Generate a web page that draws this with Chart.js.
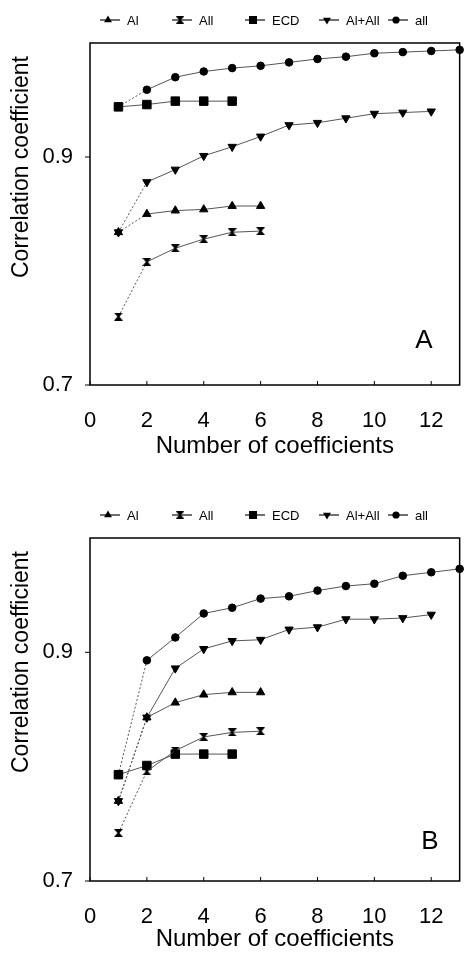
<!DOCTYPE html>
<html>
<head>
<meta charset="utf-8">
<script src="https://cdn.jsdelivr.net/npm/chart.js@4.4.1/dist/chart.umd.min.js"></script>
<style>
  html, body { margin: 0; padding: 0; background: #fff; overflow: hidden; }
  canvas { display: block; }
</style>
</head>
<body>
<canvas id="chartA" width="467" height="470"></canvas>
<canvas id="chartB" width="467" height="484"></canvas>
<script>
// x = number of coefficients
const coefficients = [1, 2, 3, 4, 5, 6, 7, 8, 9, 10, 11, 12, 13];
const xTicks = [0, 2, 4, 6, 8, 10, 12];
const yTicks = [0.7, 0.9];
const seriesLabels = ['Al', 'All', 'ECD', 'Al+All', 'all'];

// panel A
const alA     = [0.834, 0.850, 0.853, 0.854, 0.857, 0.857];
const allA    = [0.760, 0.808, 0.820, 0.828, 0.834, 0.835];
const ecdA    = [0.944, 0.946, 0.949, 0.949, 0.949];
const alAllA  = [0.834, 0.878, 0.889, 0.901, 0.909, 0.918, 0.928, 0.930, 0.934, 0.938, 0.939, 0.940];
const everyA  = [0.944, 0.959, 0.970, 0.975, 0.978, 0.980, 0.983, 0.986, 0.988, 0.991, 0.992, 0.993, 0.994];

// panel B
const alB     = [0.770, 0.843, 0.856, 0.863, 0.865, 0.865];
const allB    = [0.742, 0.796, 0.814, 0.826, 0.830, 0.831];
const ecdB    = [0.793, 0.801, 0.811, 0.811, 0.811];
const alAllB  = [0.770, 0.843, 0.886, 0.903, 0.910, 0.911, 0.920, 0.922, 0.929, 0.929, 0.930, 0.933];
const everyB  = [0.793, 0.893, 0.913, 0.934, 0.939, 0.947, 0.949, 0.954, 0.958, 0.960, 0.967, 0.970, 0.973];

const FONT = '"Liberation Sans", Arial, Helvetica, sans-serif';
const Y_TITLE = 'Correlation coefficient';

// hourglass marker used for "All"
function hourglass(w, h) {
  const c = document.createElement('canvas');
  c.width = w; c.height = h;
  const g = c.getContext('2d');
  g.fillStyle = '#000';
  g.beginPath();
  g.moveTo(0, 0); g.lineTo(w, 0); g.lineTo(w / 2 + 1, h / 2); g.lineTo(w / 2 - 1, h / 2); g.closePath();
  g.moveTo(0, h); g.lineTo(w, h); g.lineTo(w / 2 + 1, h / 2); g.lineTo(w / 2 - 1, h / 2); g.closePath();
  g.fill();
  return c;
}

const markers = [
  { pointStyle: 'triangle', rotation: 0,   radius: 4.8 },
  { pointStyle: hourglass(9, 8), rotation: 0, radius: 4.5 },
  { pointStyle: 'rect',     rotation: 0,   radius: 6 },
  { pointStyle: 'triangle', rotation: 180, radius: 4.8 },
  { pointStyle: 'circle',   rotation: 0,   radius: 3.8 },
];
const legendX = [108, 180, 253, 327, 396];

function drawMarker(ctx, m, x, y, s) {
  ctx.save();
  ctx.fillStyle = '#000';
  ctx.translate(x, y);
  if (m.pointStyle instanceof HTMLCanvasElement) {
    const w = m.pointStyle.width * s, h = m.pointStyle.height * s;
    ctx.drawImage(m.pointStyle, -w / 2, -h / 2, w, h);
  } else {
    const r = m.radius * s;
    ctx.rotate(m.rotation * Math.PI / 180);
    ctx.beginPath();
    if (m.pointStyle === 'circle') ctx.arc(0, 0, r, 0, Math.PI * 2);
    else if (m.pointStyle === 'rect') { const h = r * Math.SQRT1_2; ctx.rect(-h, -h, 2 * h, 2 * h); }
    else { ctx.moveTo(0, -r); ctx.lineTo(r * 0.866, r * 0.5); ctx.lineTo(-r * 0.866, r * 0.5); ctx.closePath(); }
    ctx.fill();
  }
  ctx.restore();
}

const panelDecor = {
  id: 'panelDecor',
  beforeDatasetsDraw(chart) {
    const { ctx, chartArea: a, scales: { x, y } } = chart;
    ctx.save();
    ctx.strokeStyle = '#000';
    ctx.lineWidth = 1.5;
    ctx.strokeRect(a.left, a.top, a.right - a.left, a.bottom - a.top);
    ctx.lineWidth = 1;
    x.ticks.forEach(t => {
      const px = x.getPixelForValue(t.value);
      ctx.beginPath(); ctx.moveTo(px, a.bottom); ctx.lineTo(px, a.bottom - 4); ctx.stroke();
    });
    y.ticks.forEach(t => {
      const py = y.getPixelForValue(t.value);
      ctx.beginPath(); ctx.moveTo(a.left - 5, py); ctx.lineTo(a.left, py); ctx.stroke();
    });
    ctx.restore();
  },
  afterDraw(chart, args, opts) {
    const { ctx, chartArea: a, scales: { x, y } } = chart;
    ctx.save();
    ctx.fillStyle = '#000';

    // y-axis title (sits above the middle of the axis, as in the original)
    ctx.save();
    ctx.font = '23px ' + FONT;
    ctx.textAlign = 'center';
    ctx.textBaseline = 'middle';
    ctx.translate(22, a.top + 124);
    ctx.rotate(-Math.PI / 2);
    ctx.fillText(Y_TITLE, 0, 0);
    ctx.restore();

    // legend
    const ly = a.top - 23;
    ctx.font = '13px ' + FONT;
    ctx.textBaseline = 'middle';
    chart.data.datasets.forEach((ds, i) => {
      const cx = legendX[i];
      ctx.strokeStyle = '#111';
      ctx.lineWidth = 1.2;
      ctx.beginPath(); ctx.moveTo(cx - 8, ly); ctx.lineTo(cx + 12, ly); ctx.stroke();
      drawMarker(ctx, markers[i], cx, ly, 0.95);
      ctx.fillText(ds.label, cx + 19, ly + 1);
    });

    // panel letter
    ctx.font = '26px ' + FONT;
    ctx.textAlign = 'center';
    ctx.fillText(opts.letter, x.getPixelForValue(opts.letterAt[0]), y.getPixelForValue(opts.letterAt[1]));
    ctx.restore();
  }
};

function makePanel(id, series, cfg) {
  const datasets = series.map((vals, i) => ({
    label: seriesLabels[i],
    data: vals.map((v, k) => ({ x: coefficients[k], y: v })),
    borderColor: '#555',
    borderWidth: 1,
    pointStyle: markers[i].pointStyle,
    pointRotation: markers[i].rotation,
    pointRadius: markers[i].radius,
    pointHoverRadius: markers[i].radius,
    pointBackgroundColor: '#000',
    pointBorderColor: '#000',
    pointBorderWidth: 1,
    fill: false,
    tension: 0,
    clip: false,
    segment: {
      borderDash: c => (i !== 2 && c.p0DataIndex === 0) ? [2, 2] : undefined
    }
  }));

  return new Chart(document.getElementById(id), {
    type: 'line',
    data: { datasets },
    plugins: [panelDecor],
    options: {
      responsive: false,
      animation: false,
      layout: { padding: { top: cfg.top, right: 6, left: 0, bottom: 0 } },
      plugins: {
        legend: { display: false },
        tooltip: { enabled: false },
        panelDecor: { letter: cfg.letter, letterAt: cfg.letterAt }
      },
      scales: {
        x: {
          type: 'linear',
          min: 0, max: 13,
          afterBuildTicks: s => { s.ticks = xTicks.map(v => ({ value: v })); },
          afterFit: s => { s.height = cfg.axisHeight; },
          grid: { display: false, drawTicks: false },
          border: { display: false },
          ticks: { color: '#000', font: { family: FONT, size: 22 }, padding: 23, maxRotation: 0 },
          title: {
            display: true, text: 'Number of coefficients', color: '#000',
            font: { family: FONT, size: 24 }, padding: { top: 0, bottom: cfg.titlePad }
          }
        },
        y: {
          min: 0.7, max: 1.0,
          afterBuildTicks: s => { s.ticks = yTicks.map(v => ({ value: v })); },
          afterFit: s => { s.width = 90; },
          grid: { display: false, drawTicks: false },
          border: { display: false },
          ticks: { color: '#000', font: { family: FONT, size: 22 }, padding: 17, callback: v => v.toFixed(1) }
        }
      }
    }
  });
}

makePanel('chartA', [alA, allA, ecdA, alAllA, everyA],
  { top: 43, axisHeight: 85, titlePad: 9, letter: 'A', letterAt: [11.74, 0.739] });
makePanel('chartB', [alB, allB, ecdB, alAllB, everyB],
  { top: 68, axisHeight: 73, titlePad: 0, letter: 'B', letterAt: [11.95, 0.734] });
</script>
</body>
</html>
